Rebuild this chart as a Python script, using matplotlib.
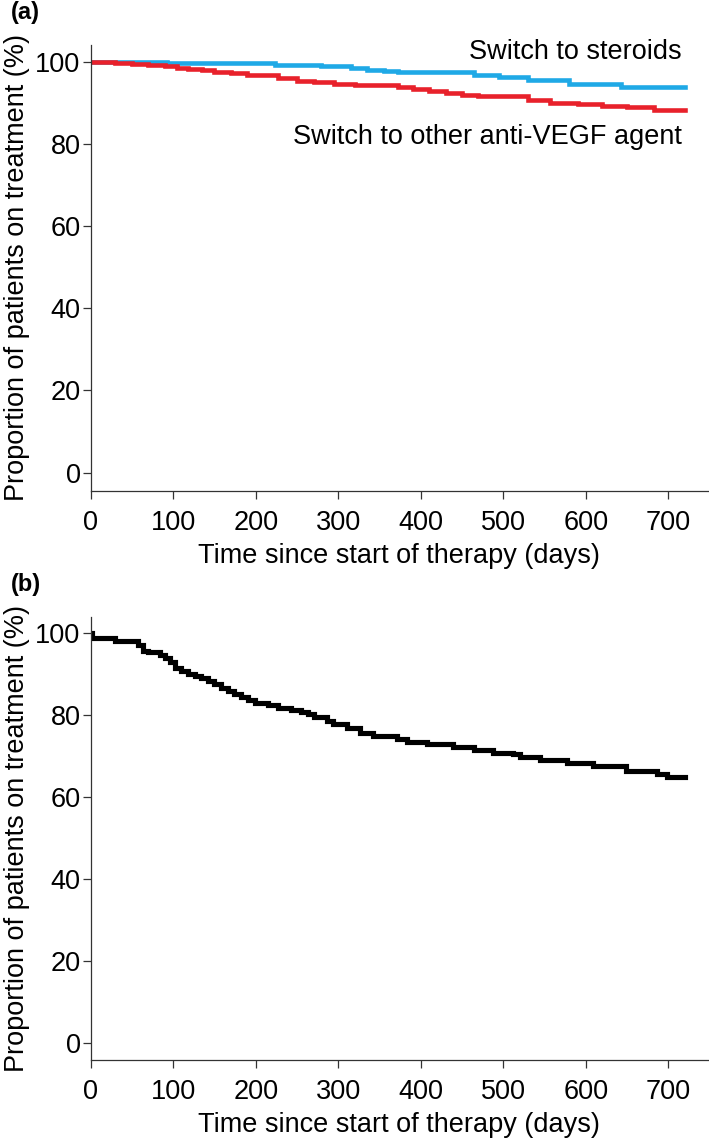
import matplotlib.pyplot as plt
from matplotlib import rc

rc('font', family=['Liberation Sans', 'DejaVu Sans'])

# panel (a): time on treatment until switch, by switch type
steroid_days = [0, 93, 223, 279, 316, 335, 355, 372, 465, 495, 530, 579, 643, 720]
steroid_pct = [100, 99.75, 99.2, 98.95, 98.5, 98.1, 97.7, 97.4, 96.7, 96.2, 95.6, 94.7, 93.8, 93.8]

antivegf_days = [0, 29, 50, 70, 90, 105, 118, 135, 150, 170, 190, 227, 250, 270, 295, 320, 372,
                 390, 410, 430, 450, 469, 530, 556, 590, 619, 650, 683, 720]
antivegf_pct = [100, 99.7, 99.5, 99.3, 99.0, 98.6, 98.3, 97.9, 97.6, 97.2, 96.8, 96.1, 95.4, 95.0, 94.6, 94.3, 93.9,
                93.3, 92.9, 92.4, 92.0, 91.6, 90.8, 90.0, 89.7, 89.2, 88.9, 88.3, 88.3]

# panel (b): any switch
any_days = [0, 1.5, 29, 57, 63, 69, 84, 90, 96, 102, 110, 118, 126, 134, 142, 150, 158, 166, 174,
            182, 191, 199, 215, 227, 243, 255, 263, 270, 286, 294, 310, 326, 342, 371, 383, 407,
            439, 464, 488, 512, 520, 544, 577, 609, 649, 686, 698, 720]
any_pct = [100, 98.8, 98.2, 97.1, 95.8, 95.4, 94.6, 93.9, 92.9, 91.6, 90.8, 90.2, 89.6, 89.0, 88.3, 87.6, 86.7, 85.9, 85.3,
           84.5, 83.7, 83.1, 82.5, 81.9, 81.3, 80.7, 80.3, 79.7, 78.7, 77.8, 76.8, 75.8, 75.0, 74.3, 73.6, 73.0,
           72.3, 71.5, 70.9, 70.5, 69.9, 69.1, 68.3, 67.6, 66.5, 65.7, 64.9, 64.9]

xticks = [0, 100, 200, 300, 400, 500, 600, 700]
yticks = [0, 20, 40, 60, 80, 100]

fig = plt.figure(figsize=(7.09, 11.44), dpi=100)
ax_a = fig.add_axes([0.1279, 0.5711, 0.8707, 0.3896])
ax_b = fig.add_axes([0.1279, 0.0734, 0.8707, 0.3875])

ax_a.step(steroid_days, steroid_pct, where='post', color='#1FA9E6', lw=3.3, solid_joinstyle='miter')
ax_a.step(antivegf_days, antivegf_pct, where='post', color='#E8212B', lw=3.3, solid_joinstyle='miter')
ax_b.step(any_days, any_pct, where='post', color='black', lw=3.7, solid_joinstyle='miter')

ax_a.text(716, 102.3, 'Switch to steroids', ha='right', va='center', fontsize=19.5)
ax_a.text(716, 81.8, 'Switch to other anti-VEGF agent', ha='right', va='center', fontsize=19.5)

for ax, lims in [(ax_a, (-4.4, 104.1)), (ax_b, (-4.1, 104.05))]:
    ax.set_xlim(0, 748)
    ax.set_ylim(*lims)
    ax.set_xticks(xticks)
    ax.set_yticks(yticks)
    ax.spines['top'].set_visible(False)
    ax.spines['right'].set_visible(False)
    for s in ['left', 'bottom']:
        ax.spines[s].set_linewidth(0.9)
        ax.spines[s].set_color('#333333')
    ax.tick_params(axis='both', length=5.8, width=0.9, color='#333333', labelsize=19.5)
    ax.tick_params(axis='y', pad=1.5)
    ax.tick_params(axis='x', pad=8)
    ax.set_xlabel('Time since start of therapy (days)', fontsize=19.5, labelpad=5)
    ax.set_ylabel('Proportion of patients on treatment (%)', fontsize=19.5, labelpad=4)

fig.text(0.016, 0.989, '(a)', fontsize=17, fontweight='bold', va='center')
fig.text(0.016, 0.489, '(b)', fontsize=17, fontweight='bold', va='center')

fig.savefig('out.png', dpi=100)
